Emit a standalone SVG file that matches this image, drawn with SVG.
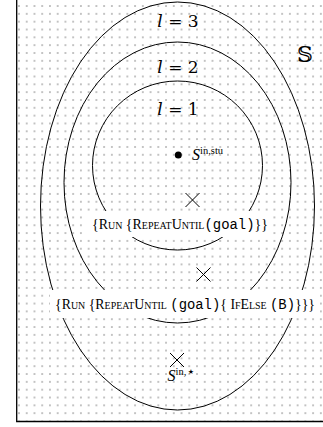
<svg xmlns="http://www.w3.org/2000/svg" width="323" height="427" viewBox="0 0 323 427">
  <defs>
    <pattern id="dots" patternUnits="userSpaceOnUse" x="15.13" y="2.09" width="7.74" height="7.83">
      <circle cx="3.87" cy="3.915" r="1" fill="#b0b0b0"/>
    </pattern>
    <style>
      .ell { fill: none; stroke: #000; stroke-width: 1; }
      .lvl { font-family: "DejaVu Serif", "Liberation Serif", serif; font-size: 17px; fill: #000; }
      .it { font-style: italic; }
      .cross { stroke: #000; stroke-width: 1; fill: none; }
      .lab { font-family: "Liberation Serif", serif; font-size: 14px; fill: #000; }
      .sc { font-variant: small-caps; }
      .tt { font-family: "Liberation Mono", monospace; }
      .box { fill: #fff; stroke: none; }
      .math { font-family: "Liberation Serif", serif; fill: #000; }
    </style>
  </defs>
  <rect x="17" y="0" width="306" height="420.5" fill="url(#dots)"/>
  <g id="frame">
    <path d="M16.7,0 V421.5 H323" fill="none" stroke="#000" stroke-width="1.3"/>
  </g>
  <g id="level3">
    <ellipse class="ell" cx="177.5" cy="206" rx="137" ry="204"/>
    <text class="lvl" x="178" y="27" text-anchor="middle"><tspan class="it">l</tspan> = 3</text>
  </g>
  <g id="level2">
    <ellipse class="ell" cx="177.5" cy="182.5" rx="113.5" ry="140.5"/>
    <text class="lvl" x="178" y="73" text-anchor="middle"><tspan class="it">l</tspan> = 2</text>
  </g>
  <g id="level1">
    <ellipse class="ell" cx="177.5" cy="165.5" rx="85" ry="84.5"/>
    <text class="lvl" x="178" y="115" text-anchor="middle"><tspan class="it">l</tspan> = 1</text>
  </g>
  <g id="space-S">
    <text x="305" y="61.5" text-anchor="middle" font-family="DejaVu Serif, DejaVu Sans, serif" font-size="22" fill="#000">𝕊</text>
  </g>
  <g id="s-in-stu">
    <circle cx="178.3" cy="155" r="3.5" fill="#000"/>
    <text class="math" x="192" y="159.5" font-size="16"><tspan font-style="italic">S</tspan><tspan font-size="10.5" dy="-6">in,stu</tspan></text>
  </g>
  <g id="cross1">
    <path class="cross" d="M185.5,193 L199.5,207 M199.5,193 L185.5,207"/>
  </g>
  <g id="label1">
    <rect class="box" x="87" y="211" width="186" height="26"/>
    <text class="lab" x="92" y="228.5" textLength="176" lengthAdjust="spacingAndGlyphs">{<tspan class="sc">Run</tspan> {<tspan class="sc">RepeatUntil</tspan><tspan class="tt">(goal)</tspan>}}</text>
  </g>
  <g id="cross2">
    <path class="cross" d="M196.5,267.5 L210.5,281.5 M210.5,267.5 L196.5,281.5"/>
  </g>
  <g id="label2">
    <rect class="box" x="50" y="290" width="270" height="28"/>
    <text class="lab" x="55" y="308.5" textLength="260" lengthAdjust="spacingAndGlyphs">{<tspan class="sc">Run</tspan> {<tspan class="sc">RepeatUntil</tspan> <tspan class="tt">(goal)</tspan>{ <tspan class="sc">IfElse</tspan> <tspan class="tt">(B)</tspan>}}}</text>
  </g>
  <g id="cross3">
    <path class="cross" d="M170,353 L184,367 M184,353 L170,367"/>
  </g>
  <g id="s-in-star">
    <text class="math" x="167.5" y="381" font-size="16"><tspan font-style="italic">S</tspan><tspan font-size="10.5" dy="-6">in,</tspan><tspan font-family="DejaVu Sans, sans-serif" font-size="7" dx="1.5" dy="-1">★</tspan></text>
  </g>
</svg>
